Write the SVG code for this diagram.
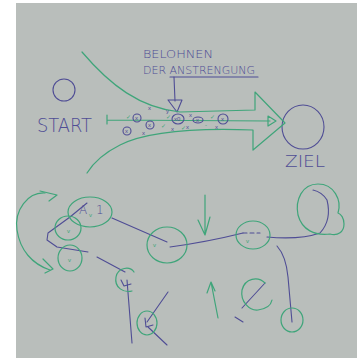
<svg xmlns="http://www.w3.org/2000/svg" width="363" height="358" viewBox="0 0 363 358">
<style>
.g{fill:none;stroke:#3fa57a;stroke-width:1.2;stroke-linecap:round;stroke-linejoin:round}
.p{fill:none;stroke:#4f4d95;stroke-width:1.1;stroke-linecap:round;stroke-linejoin:round}
.t{font-family:"DejaVu Sans","Liberation Sans",sans-serif;font-weight:200;fill:#4f4d95}
.s{font-family:"Liberation Sans",Arial,sans-serif;font-size:6px;fill:#4f4d95}
.sg{font-family:"Liberation Sans",Arial,sans-serif;font-size:6px;fill:#3fa57a}
</style>
<rect x="0" y="0" width="363" height="358" fill="#ffffff"/>
<rect x="16" y="3" width="341" height="355" fill="#b9bebb"/>

<g id="label-belohnen">
<text class="t" x="143" y="58" font-size="10" textLength="70" lengthAdjust="spacingAndGlyphs">BELOHNEN</text>
<text class="t" x="143" y="74" font-size="10" textLength="112" lengthAdjust="spacingAndGlyphs">DER ANSTRENGUNG</text>
<path class="p" d="M170 77 L258 77"/>
<path class="p" d="M174 77 L175 101 M168 100 L182 100 L177 112 Z"/>
</g>

<g id="start">
<ellipse class="p" cx="64" cy="90" rx="11" ry="11"/>
<text class="t" x="37" y="132" font-size="19" textLength="55" lengthAdjust="spacingAndGlyphs">START</text>
</g>

<g id="ziel">
<ellipse class="p" cx="303" cy="127" rx="21" ry="22"/>
<text class="t" x="285" y="167" font-size="16" textLength="40" lengthAdjust="spacingAndGlyphs">ZIEL</text>
</g>

<g id="big-arrow">
<path class="g" d="M82 52 C110 85 140 108 180 112 L255 110 L255 92 L285 123 L253 150 L253 130 C200 128 150 130 120 145 C100 155 92 165 87 173"/>
</g>

<g id="path-line">
<path class="g" d="M107 115 L107 124 M107 120 L270 121 M268 116 L276 121 L268 126 Z"/>
</g>

<g id="marks">
<circle class="p" cx="137" cy="118" r="4"/><text class="s" x="135" y="120">x</text>
<circle class="p" cx="127" cy="131" r="4"/><text class="s" x="125" y="133">x</text>
<circle class="p" cx="150" cy="125" r="4"/><text class="s" x="148" y="127">x</text>
<ellipse class="p" cx="178" cy="119" rx="6" ry="5"/><text class="s" x="174" y="121">x0</text>
<ellipse class="p" cx="198" cy="120" rx="5" ry="3"/><text class="s" x="196" y="122">x</text>
<circle class="p" cx="223" cy="119" r="5"/><text class="s" x="221" y="121">x</text>
<text class="s" x="148" y="110">x</text>
<text class="s" x="142" y="135">x</text>
<text class="s" x="166" y="113">y</text>
<text class="s" x="189" y="117">x</text>
<text class="s" x="171" y="131">x</text>
<text class="s" x="186" y="129">x</text>
<text class="s" x="215" y="129">x</text>
<text class="sg" x="126" y="119">✓</text>
<text class="sg" x="166" y="119">✓</text>
<text class="sg" x="161" y="128">✓</text>
<text class="sg" x="181" y="130">✓</text>
<text class="sg" x="210" y="119">✓</text>
<text class="sg" x="205" y="127">-</text>
</g>

<g id="connectors">
<path class="p" d="M87 203 L70 217 L48 233 L47 240 L57 247 L88 252"/>
<path class="p" d="M112 218 L167 242"/>
<path class="p" d="M170 247 Q207 242 243 233"/>
<path class="p" d="M243 233 L260 233" stroke-dasharray="4 3"/>
<path class="p" d="M267 237 Q300 240 320 233 Q332 220 327 200 Q322 192 313 190"/>
<path class="p" d="M277 246 Q286 256 288 277 L292 322"/>
<path class="p" d="M97 257 L125 272 M127 280 L132 343"/>
<path class="p" d="M168 292 L147 322 M148 327 L167 345"/>
<path class="p" d="M265 283 L242 308 M235 317 L243 322"/>
</g>

<g id="loop-arrow">
<path class="g" d="M45 193 C28 192 14 210 17 230 C20 250 32 264 50 270"/>
<path class="g" d="M40 191 L57 195 L49 201"/>
<path class="g" d="M43 259 L53 269 L45 273"/>
</g>

<g id="node-a1">
<ellipse class="g" cx="90" cy="212" rx="22" ry="15"/>
<text class="t" x="79" y="214" font-size="12">A</text>
<text class="sg" x="89" y="217" font-size="8">v</text>
<text class="t" x="96" y="214" font-size="12">1</text>
</g>
<g id="node-left1"><ellipse class="g" cx="68" cy="228" rx="13" ry="12"/><text class="sg" x="67" y="233">v</text></g>
<g id="node-left2"><ellipse class="g" cx="70" cy="258" rx="12" ry="13"/><text class="sg" x="68" y="262">v</text></g>
<g id="node-mid"><ellipse class="g" cx="167" cy="245" rx="20" ry="18"/><text class="sg" x="153" y="247">v</text></g>
<g id="node-right"><ellipse class="g" cx="253" cy="235" rx="17" ry="14"/><text class="sg" x="246" y="243">v</text></g>
<g id="node-loop"><path class="g" d="M318 184 C302 184 295 200 298 215 C302 230 315 236 330 234 C338 236 344 232 344 224 C344 218 341 214 338 213 C342 200 334 184 318 184 Z"/></g>
<g id="node-c"><path class="g" d="M134 272 C130 266 118 267 116 277 C114 288 124 293 132 291"/><path class="p" d="M121 280 L124 286 L131 284"/></g>
<g id="node-bottom"><ellipse class="g" cx="147" cy="323" rx="10" ry="12"/><path class="p" d="M145 318 L146 327 L153 325"/></g>
<g id="node-slash"><path class="g" d="M265 283 C258 276 245 278 242 290 C240 302 250 311 258 310 C266 309 271 305 272 300"/></g>
<g id="node-br"><ellipse class="g" cx="292" cy="320" rx="11" ry="12"/></g>
<g id="arrow-down"><path class="g" d="M205 195 L205 235 M198 220 L205 235 L210 217"/></g>
<g id="arrow-up"><path class="g" d="M218 318 L211 282 M207 293 L211 282 L215 291"/></g>
</svg>
